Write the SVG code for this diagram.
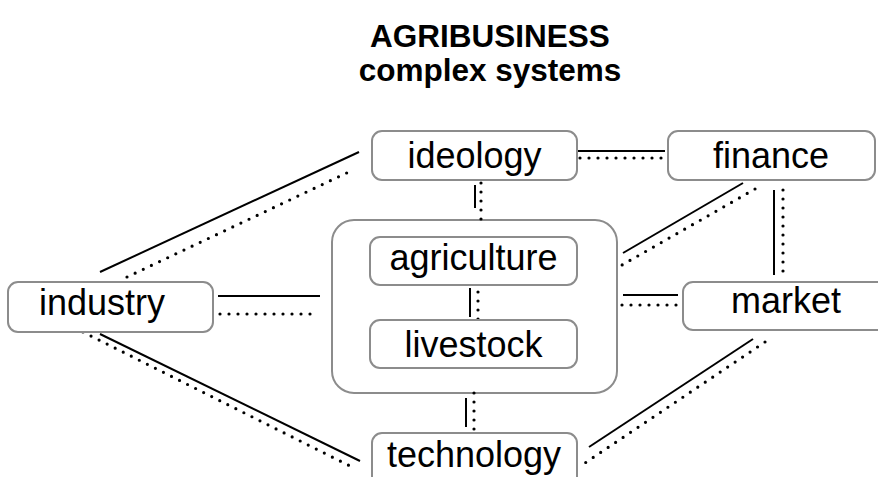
<svg xmlns="http://www.w3.org/2000/svg" width="878" height="477" viewBox="0 0 878 477">
<style>
.box{fill:#fff;stroke:#8c8c8c;stroke-width:2}
.lbl{font-family:"Liberation Sans",Arial,sans-serif;font-size:36px;fill:#000;text-anchor:middle}
.title{font-family:"Liberation Sans",Arial,sans-serif;font-size:31.5px;font-weight:bold;fill:#000;text-anchor:middle}
.s{stroke:#000;stroke-width:2;fill:none}
.d{stroke:#000;stroke-width:3.2;fill:none;stroke-dasharray:0 9;stroke-linecap:round}
</style>
<rect width="878" height="477" fill="#fff"/>
<text class="title" x="490" y="47">AGRIBUSINESS</text>
<text class="title" x="490" y="81">complex systems</text>
<g id="container"><rect class="box" x="332" y="220" width="285" height="173" rx="22"/></g>
<g id="connectors">
<line class="s" x1="578" y1="151" x2="665" y2="151"/>
<line class="d" x1="580" y1="158" x2="666" y2="158"/>
<line class="s" x1="475" y1="185" x2="475" y2="208"/>
<line class="d" x1="481" y1="183" x2="481" y2="221"/>
<line class="s" x1="743" y1="183" x2="623" y2="253"/>
<line class="d" x1="755" y1="189" x2="622" y2="265"/>
<line class="s" x1="774" y1="190" x2="774" y2="275"/>
<line class="d" x1="783" y1="190" x2="783" y2="280"/>
<line class="s" x1="623" y1="295" x2="678" y2="295"/>
<line class="d" x1="622" y1="305" x2="677" y2="305"/>
<line class="s" x1="218" y1="296" x2="320" y2="296"/>
<line class="d" x1="220" y1="314" x2="319" y2="314"/>
<line class="s" x1="100" y1="272" x2="359" y2="152"/>
<line class="d" x1="127" y1="277" x2="353" y2="170"/>
<line class="s" x1="100" y1="334" x2="360" y2="461"/>
<line class="d" x1="83" y1="332" x2="352" y2="467"/>
<line class="s" x1="470" y1="288" x2="470" y2="317"/>
<line class="d" x1="478" y1="283" x2="478" y2="323"/>
<line class="s" x1="466" y1="398" x2="466" y2="427"/>
<line class="d" x1="474" y1="393" x2="474" y2="433"/>
<line class="s" x1="753" y1="339" x2="589" y2="447"/>
<line class="d" x1="765" y1="342" x2="582" y2="465"/>
</g>
<g id="ideology"><rect class="box" x="372" y="131" width="205" height="49" rx="10"/><text class="lbl" x="474.5" y="168">ideology</text></g>
<g id="finance"><rect class="box" x="668" y="131" width="207" height="49" rx="10"/><text class="lbl" x="771" y="168">finance</text></g>
<g id="industry"><rect class="box" x="8" y="282" width="205" height="50" rx="10"/><text class="lbl" x="102" y="315">industry</text></g>
<g id="market"><rect class="box" x="683" y="282" width="205" height="48" rx="10"/><text class="lbl" x="786" y="313">market</text></g>
<g id="agriculture"><rect class="box" x="370" y="237" width="207" height="48" rx="10"/><text class="lbl" x="473.5" y="270">agriculture</text></g>
<g id="livestock"><rect class="box" x="370" y="320" width="207" height="48" rx="10"/><text class="lbl" x="473.5" y="357">livestock</text></g>
<g id="technology"><rect class="box" x="372" y="433" width="205" height="60" rx="10"/><text class="lbl" x="474" y="467">technology</text></g>
</svg>
